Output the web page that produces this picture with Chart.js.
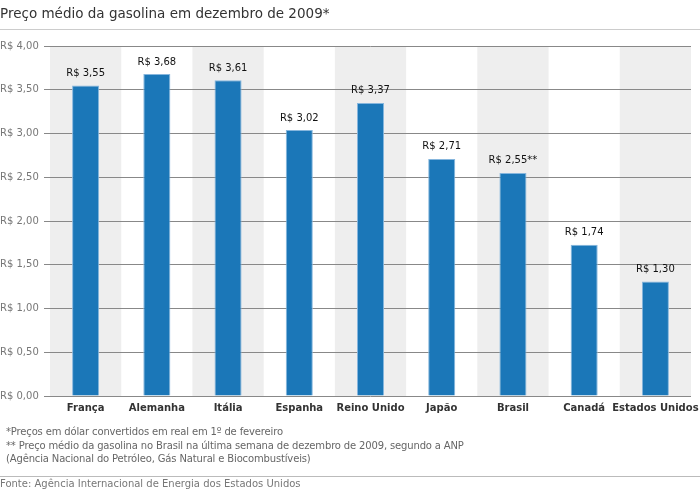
<!DOCTYPE html>
<html>
<head>
<meta charset="utf-8">
<script src="https://cdn.jsdelivr.net/npm/chart.js@4"></script>
<style>
  body { margin: 0; background: #fff; font-family: "DejaVu Sans", sans-serif; }
  #quadro { position: relative; width: 700px; height: 495px; overflow: hidden; }
  #grafico { position: absolute; left: 0; top: 0; width: 700px; height: 495px; }
  #titulo { position: absolute; left: 0; top: 4px; font-size: 13.5px; color: #333; line-height: 18px; }
  .linha { position: absolute; left: 0; width: 700px; height: 1px; background: #ccc; }
  #notas { position: absolute; left: 6px; top: 425px; font-size: 10px; line-height: 13.5px; color: #666; letter-spacing: -0.15px; }
  #fonte { position: absolute; left: 0; top: 477px; font-size: 10px; line-height: 14px; color: #777; }
</style>
</head>
<body>
<div id="quadro">
  <div id="grafico"><canvas id="myChart"></canvas></div>
  <div id="titulo">Preço médio da gasolina em dezembro de 2009*</div>
  <div class="linha" style="top:29px"></div>
  <div id="notas">
    *Preços em dólar convertidos em real em 1º de fevereiro<br>
    ** Preço médio da gasolina no Brasil na última semana de dezembro de 2009, segundo a ANP<br>
    (Agência Nacional do Petróleo, Gás Natural e Biocombustíveis)
  </div>
  <div class="linha" style="top:476px; background:#bbb"></div>
  <div id="fonte">Fonte: Agência Internacional de Energia dos Estados Unidos</div>
</div>
<script>
// dados
const paises = ['França', 'Alemanha', 'Itália', 'Espanha', 'Reino Unido', 'Japão', 'Brasil', 'Canadá', 'Estados Unidos'];
const precos = [3.55, 3.68, 3.61, 3.04, 3.35, 2.71, 2.55, 1.73, 1.31];
const rotulos = ['R$ 3,55', 'R$ 3,68', 'R$ 3,61', 'R$ 3,02', 'R$ 3,37', 'R$ 2,71', 'R$ 2,55**', 'R$ 1,74', 'R$ 1,30'];
const escalaMin = 0;
const escalaMax = 4;
const passo = 0.5;

//faixas cinzas alternadas atras da grade
const faixas = {
    id: 'faixas',
    beforeDraw(chart) {
        const ctx = chart.ctx;
        const area = chart.chartArea;
        const x = chart.scales.x;
        const largura = (area.right - area.left) / paises.length;
        ctx.save();
        ctx.fillStyle = '#eeeeee';
        paises.forEach((p, i) => {
            if (i % 2 == 0) {
                const cx = x.getPixelForValue(i);
                ctx.fillRect(cx - largura / 2, area.top, largura, area.bottom - area.top);
            }
        });
        ctx.restore();
    }
};

//rotulos em cima das barras
const valores = {
    id: 'valores',
    afterDatasetsDraw(chart) {
        const ctx = chart.ctx;
        const meta = chart.getDatasetMeta(0);
        ctx.save();
        ctx.font = '10px "DejaVu Sans"';
        ctx.fillStyle = '#111';
        ctx.textAlign = 'center';
        ctx.textBaseline = 'middle';
        meta.data.forEach((barra, i) => {
            ctx.fillText(rotulos[i], barra.x, barra.y - 12);
        });
        ctx.restore();
    }
};

const ctx = document.querySelector('#myChart').getContext('2d');
new Chart(ctx, {
    type: 'bar',
    data: {
        labels: paises,
        datasets: [{
            data: precos,
            backgroundColor: '#1b77b8',
            borderColor: '#86b6dd',
            borderWidth: 1,
            borderSkipped: 'bottom',
            barPercentage: 0.38,
            categoryPercentage: 1
        }]
    },
    options: {
        responsive: true,
        maintainAspectRatio: false,
        animation: false,
        layout: { padding: { top: 46, right: 9, bottom: 75, left: 0 } },
        plugins: { legend: { display: false }, tooltip: { enabled: false } },
        scales: {
            x: {
                grid: { display: false, drawTicks: false },
                border: { display: false },
                afterFit: function (scale) { scale.paddingLeft = 0; scale.paddingRight = 0; },
                ticks: {
                    autoSkip: false,
                    maxRotation: 0,
                    padding: 6,
                    color: '#333',
                    font: { family: 'DejaVu Sans', size: 10, weight: 'bold' }
                }
            },
            y: {
                min: escalaMin,
                max: escalaMax,
                border: { display: false },
                grid: { color: '#888', lineWidth: 1, tickLength: 6, tickColor: '#888' },
                afterFit: function (scale) { scale.width = 50; },
                ticks: {
                    stepSize: passo,
                    crossAlign: 'far',
                    color: '#777',
                    font: { family: 'DejaVu Sans', size: 10 },
                    callback: function (v) { return 'R$ ' + v.toFixed(2).replace('.', ','); }
                }
            }
        }
    },
    plugins: [faixas, valores]
});
</script>
</body>
</html>
